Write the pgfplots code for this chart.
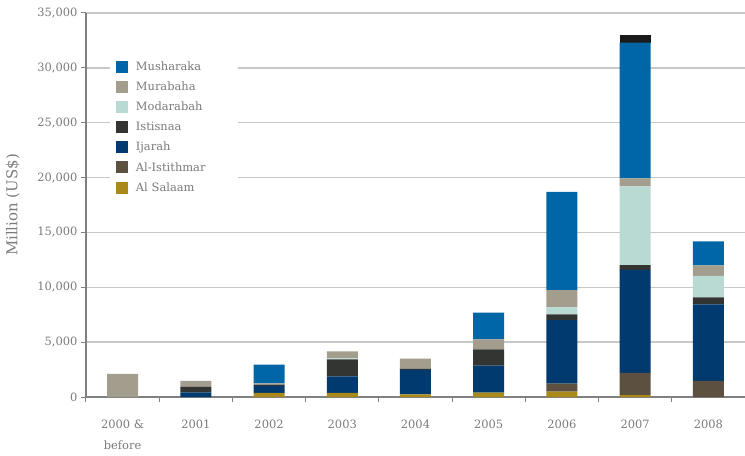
\documentclass[border=0pt]{standalone}
\usepackage{pgfplots}
\usepackage{pgfplotstable}
\usepackage{fontspec}
\setmainfont{DejaVu Serif}
\pgfplotsset{compat=1.18}

\definecolor{cMush}{HTML}{0066A6}
\definecolor{cMura}{HTML}{A39D8D}
\definecolor{cModa}{HTML}{B9D9D3}
\definecolor{cIsti}{HTML}{333533}
\definecolor{cIjar}{HTML}{003A6E}
\definecolor{cIstm}{HTML}{5C5040}
\definecolor{cSala}{HTML}{A8891A}
\definecolor{cOther}{HTML}{1A1A1A}
\definecolor{axisgray}{HTML}{808080}
\definecolor{gridgray}{HTML}{C8C8C8}
\definecolor{textgray}{HTML}{7A7A7A}

% Million US$, stacked bottom-up
\pgfplotstableread{
x salaam istithmar ijarah istisnaa modarabah murabaha musharaka other
0 0   0    0    0    0    2100 0     0
1 0   0    430  520  0    510  0     0
2 365 0    640  120  0    120  1700  0
3 365 0    1520 1550 90   640  0     0
4 250 0    2220 120  0    910  0     0
5 400 0    2460 1490 0    910  2430  0
6 500 730  5770 520  640  1580 8950  0
7 180 2030 9380 430  7170 730  12380 730
8 0   1460 6980 640  1970 940  2190  0
}\sukuk

\newcommand{\fs}{\fontsize{11.5}{13}\selectfont}

\begin{document}
\begin{tikzpicture}
\useasboundingbox (-86bp,-59bp) rectangle (659bp,397bp);
\begin{axis}[
  scale only axis,
  width=659bp, height=384bp,
  ybar stacked, bar width=31bp,
  xmin=-0.5, xmax=8.5,
  ymin=0, ymax=35000,
  axis lines=left,
  axis line style={axisgray, line width=1.2bp, -},
  xtick={0,...,8},
  xticklabels={{2000 \&\\before},2001,2002,2003,2004,2005,2006,2007,2008},
  minor xtick={-0.5,0.5,...,7.5},
  every major x tick/.append style={draw=none},
  ytick={0,5000,...,35000},
  tick align=outside,
  major tick length=5bp, minor tick length=5bp,
  tick style={axisgray, line width=1bp},
  scaled y ticks=false,
  /pgf/number format/1000 sep={,},
  /pgf/number format/assume math mode=true,
  ymajorgrids,
  major grid style={gridgray, line width=1.3bp},
  tick label style={font=\fs, text=textgray},
  xticklabel style={align=center, yshift=-14bp, font=\fontsize{11.5}{22}\selectfont},
  ylabel={Million (US\$)},
  ylabel style={font=\fontsize{15}{17}\selectfont, text=textgray, at={(axis description cs:-0.1108,0.5)}, anchor=center},
  legend style={at={(rel axis cs:0.036,0.884)}, anchor=north west, draw=none, fill=white,
    font=\fs, text=textgray, legend cell align=left, row sep=6bp, inner xsep=6bp,
    /tikz/every odd column/.append style={column sep=6bp},
    /tikz/every even column/.append style={text width=94bp}},
  reverse legend,
  legend image code/.code={\fill[#1] (0bp,-6bp) rectangle (12bp,6bp);},
  every axis plot/.append style={draw=none},
]
\addplot[fill=cSala] table[x=x,y=salaam] {\sukuk};
\addplot[fill=cIstm] table[x=x,y=istithmar] {\sukuk};
\addplot[fill=cIjar] table[x=x,y=ijarah] {\sukuk};
\addplot[fill=cIsti] table[x=x,y=istisnaa] {\sukuk};
\addplot[fill=cModa] table[x=x,y=modarabah] {\sukuk};
\addplot[fill=cMura] table[x=x,y=murabaha] {\sukuk};
\addplot[fill=cMush] table[x=x,y=musharaka] {\sukuk};
\addplot[fill=cOther, forget plot] table[x=x,y=other] {\sukuk};
\legend{Al Salaam,Al-Istithmar,Ijarah,Istisnaa,Modarabah,Murabaha,Musharaka}
\end{axis}
\end{tikzpicture}
\end{document}
